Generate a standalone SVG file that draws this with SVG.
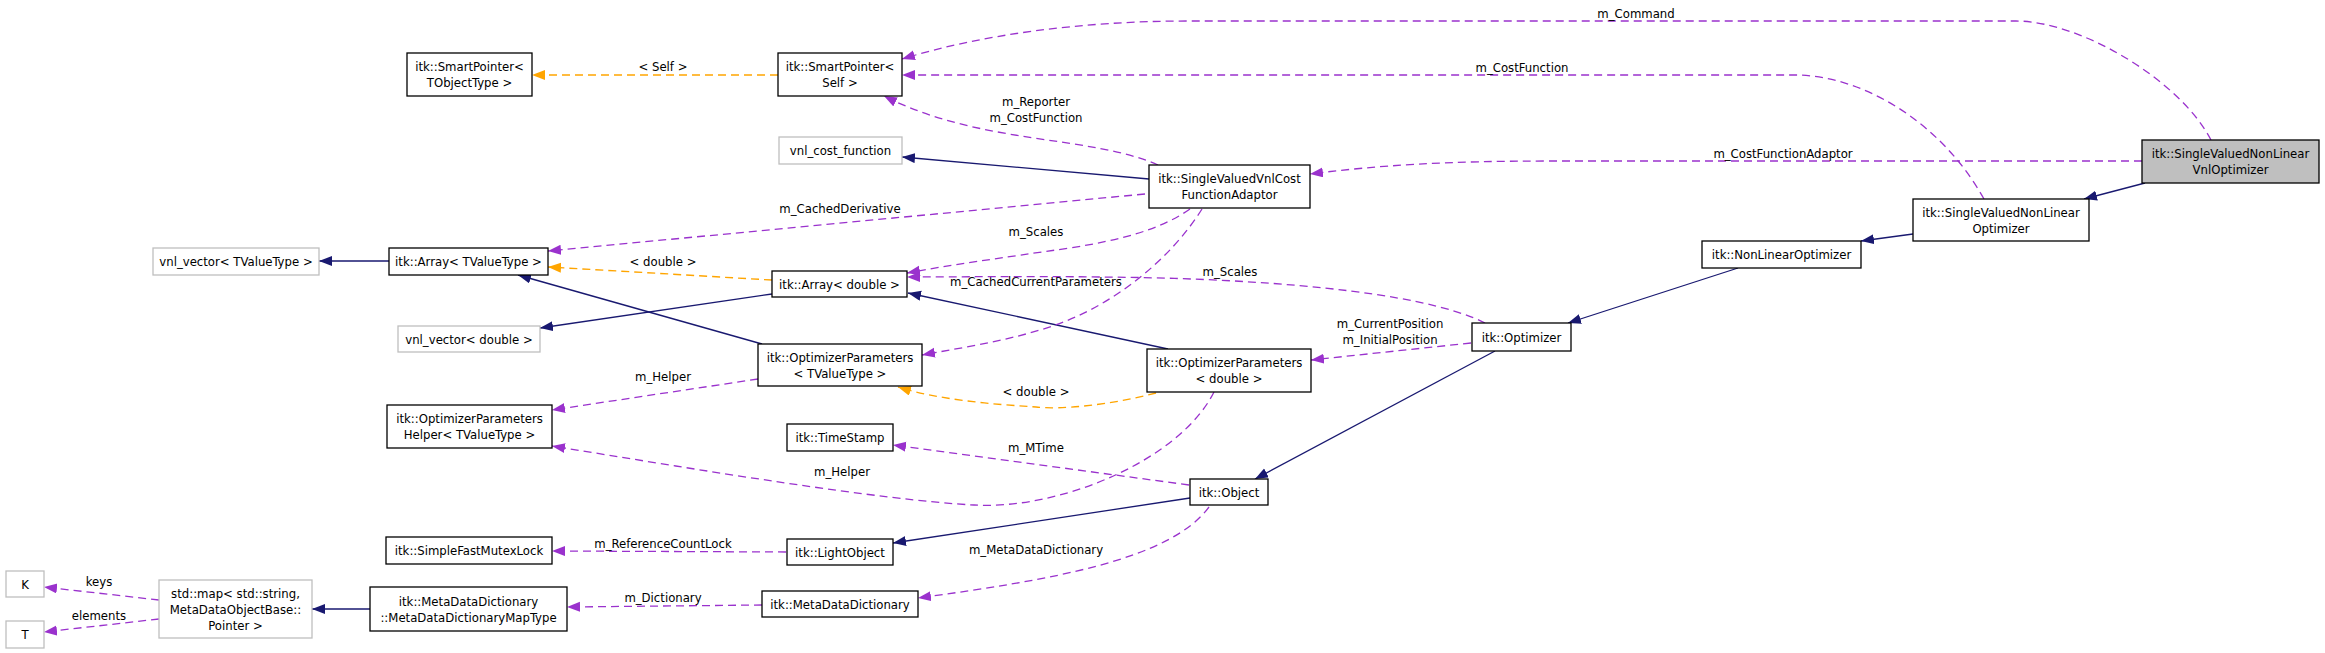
<svg xmlns="http://www.w3.org/2000/svg" width="2325" height="653" viewBox="0 0 2325 653">
<defs>
<style>
text{font-family:"DejaVu Sans Condensed","Liberation Sans Narrow","Liberation Sans",sans-serif;font-size:13px;fill:#000;text-anchor:middle;dominant-baseline:central}
.n{fill:#fff;stroke:#000;stroke-width:1.3}
.g{fill:#fff;stroke:#bfbfbf;stroke-width:1.3}
.f{fill:#bfbfbf;stroke:#000;stroke-width:1.3}
.b{fill:none;stroke:#191970;stroke-width:1.3}
.p{fill:none;stroke:#9a32cd;stroke-width:1.3;stroke-dasharray:8,5}
.o{fill:none;stroke:#ffa500;stroke-width:1.3;stroke-dasharray:8,5}
</style>
<marker id="ab" markerUnits="userSpaceOnUse" markerWidth="14" markerHeight="11" refX="13" refY="5" orient="auto"><path d="M0,0L13,5L0,10z" fill="#191970"/></marker>
<marker id="ap" markerUnits="userSpaceOnUse" markerWidth="14" markerHeight="11" refX="13" refY="5" orient="auto"><path d="M0,0L13,5L0,10z" fill="#9a32cd"/></marker>
<marker id="ao" markerUnits="userSpaceOnUse" markerWidth="14" markerHeight="11" refX="13" refY="5" orient="auto"><path d="M0,0L13,5L0,10z" fill="#ffa500"/></marker>
</defs>
<rect width="2325" height="653" fill="#fff"/>
<g id="edges">
<path class="o" marker-end="url(#ao)" d="M778,75L532,75"/>
<text x="663" y="66">&lt; Self &gt;</text>
<path class="o" marker-end="url(#ao)" d="M772,280L548,267"/>
<text x="663" y="261">&lt; double &gt;</text>
<path class="o" marker-end="url(#ao)" d="M1156,393C1110,405 1060,410 1036,407C990,404 940,400 898,387"/>
<text x="1036" y="391">&lt; double &gt;</text>
<path class="b" marker-end="url(#ab)" d="M1149,179L902,157"/>
<path class="b" marker-end="url(#ab)" d="M2145,183L2084,199"/>
<path class="b" marker-end="url(#ab)" d="M1913,234L1861,241"/>
<path class="b" marker-end="url(#ab)" d="M1738,268L1568,323"/>
<path class="b" marker-end="url(#ab)" d="M1495,351L1255,479"/>
<path class="b" marker-end="url(#ab)" d="M1190,498L893,543"/>
<path class="b" marker-end="url(#ab)" d="M389,261L319,261"/>
<path class="b" marker-end="url(#ab)" d="M772,294L540,328"/>
<path class="b" marker-end="url(#ab)" d="M762,344L518,275"/>
<path class="b" marker-end="url(#ab)" d="M1168,349L908,293"/>
<path class="b" marker-end="url(#ab)" d="M370,609L312,609"/>
<path class="p" marker-end="url(#ap)" d="M2211,140C2180,80 2080,21 2016,21L1189,21C1080,21 980,35 902,59"/>
<text x="1636" y="13">m_Command</text>
<path class="p" marker-end="url(#ap)" d="M1984,199C1940,120 1860,75 1795,75L902,75"/>
<text x="1522" y="67">m_CostFunction</text>
<path class="p" marker-end="url(#ap)" d="M1158,165C1090,135 980,145 884,96"/>
<text x="1036" y="101">m_Reporter</text>
<text x="1036" y="117">m_CostFunction</text>
<path class="p" marker-end="url(#ap)" d="M2142,161L1550,161C1450,161 1380,165 1310,174"/>
<text x="1783" y="153">m_CostFunctionAdaptor</text>
<path class="p" marker-end="url(#ap)" d="M1145,194L548,251"/>
<text x="840" y="208">m_CachedDerivative</text>
<path class="p" marker-end="url(#ap)" d="M1190,209C1160,230 1120,240 1070,248C1000,258 950,265 907,273"/>
<text x="1036" y="231">m_Scales</text>
<path class="p" marker-end="url(#ap)" d="M1202,209C1170,260 1110,310 1040,330C1000,342 960,348 922,355"/>
<text x="1036" y="281">m_CachedCurrentParameters</text>
<path class="p" marker-end="url(#ap)" d="M1485,323C1420,290 1250,278 1100,277C1020,276 960,277 907,277"/>
<text x="1230" y="271">m_Scales</text>
<path class="p" marker-end="url(#ap)" d="M1471,343L1311,360"/>
<text x="1390" y="323">m_CurrentPosition</text>
<text x="1390" y="339">m_InitialPosition</text>
<path class="p" marker-end="url(#ap)" d="M758,379L552,410"/>
<text x="663" y="376">m_Helper</text>
<path class="p" marker-end="url(#ap)" d="M1214,392C1180,460 1060,510 974,505C880,500 700,470 552,446"/>
<text x="842" y="471">m_Helper</text>
<path class="p" marker-end="url(#ap)" d="M1189,485L893,445"/>
<text x="1036" y="447">m_MTime</text>
<path class="p" marker-end="url(#ap)" d="M786,552L552,551"/>
<text x="663" y="543">m_ReferenceCountLock</text>
<path class="p" marker-end="url(#ap)" d="M1209,507C1170,560 1050,580 918,598"/>
<text x="1036" y="549">m_MetaDataDictionary</text>
<path class="p" marker-end="url(#ap)" d="M762,605L567,607"/>
<text x="663" y="597">m_Dictionary</text>
<path class="p" marker-end="url(#ap)" d="M159,600L44,587"/>
<text x="99" y="581">keys</text>
<path class="p" marker-end="url(#ap)" d="M159,619L44,632"/>
<text x="99" y="615">elements</text>
</g>
<g id="node_sp_t"><rect class="n" x="407" y="53" width="125" height="43"/><text x="469.5" y="66.5">itk::SmartPointer&lt;</text><text x="469.5" y="82.5">TObjectType &gt;</text></g>
<g id="node_sp_self"><rect class="n" x="778" y="53" width="124" height="43"/><text x="840" y="66.5">itk::SmartPointer&lt;</text><text x="840" y="82.5">Self &gt;</text></g>
<g id="node_vnl_cost"><rect class="g" x="779" y="137" width="123" height="27"/><text x="840.5" y="150.5">vnl_cost_function</text></g>
<g id="node_adaptor"><rect class="n" x="1149" y="165" width="161" height="43"/><text x="1229.5" y="178.5">itk::SingleValuedVnlCost</text><text x="1229.5" y="194.5">FunctionAdaptor</text></g>
<g id="node_vnlopt"><rect class="f" x="2142" y="140" width="177" height="43"/><text x="2230.5" y="153.5">itk::SingleValuedNonLinear</text><text x="2230.5" y="169.5">VnlOptimizer</text></g>
<g id="node_svnlopt"><rect class="n" x="1913" y="199" width="176" height="42"/><text x="2001" y="212">itk::SingleValuedNonLinear</text><text x="2001" y="228">Optimizer</text></g>
<g id="node_nlopt"><rect class="n" x="1702" y="241" width="159" height="27"/><text x="1781.5" y="254.5">itk::NonLinearOptimizer</text></g>
<g id="node_optimizer"><rect class="n" x="1472" y="323" width="99" height="28"/><text x="1521.5" y="337">itk::Optimizer</text></g>
<g id="node_vnlvec_t"><rect class="g" x="153" y="248" width="166" height="27"/><text x="236" y="261.5">vnl_vector&lt; TValueType &gt;</text></g>
<g id="node_array_t"><rect class="n" x="389" y="248" width="159" height="27"/><text x="468.5" y="261.5">itk::Array&lt; TValueType &gt;</text></g>
<g id="node_array_d"><rect class="n" x="772" y="271" width="135" height="26"/><text x="839.5" y="284">itk::Array&lt; double &gt;</text></g>
<g id="node_vnlvec_d"><rect class="g" x="398" y="326" width="142" height="26"/><text x="469" y="339">vnl_vector&lt; double &gt;</text></g>
<g id="node_op_t"><rect class="n" x="758" y="344" width="164" height="42"/><text x="840" y="357">itk::OptimizerParameters</text><text x="840" y="373">&lt; TValueType &gt;</text></g>
<g id="node_op_d"><rect class="n" x="1147" y="349" width="164" height="43"/><text x="1229" y="362.5">itk::OptimizerParameters</text><text x="1229" y="378.5">&lt; double &gt;</text></g>
<g id="node_helper"><rect class="n" x="387" y="405" width="165" height="43"/><text x="469.5" y="418.5">itk::OptimizerParameters</text><text x="469.5" y="434.5">Helper&lt; TValueType &gt;</text></g>
<g id="node_timestamp"><rect class="n" x="787" y="424" width="106" height="27"/><text x="840" y="437.5">itk::TimeStamp</text></g>
<g id="node_object"><rect class="n" x="1190" y="479" width="78" height="26"/><text x="1229" y="492">itk::Object</text></g>
<g id="node_mutex"><rect class="n" x="386" y="537" width="166" height="27"/><text x="469" y="550.5">itk::SimpleFastMutexLock</text></g>
<g id="node_lightobject"><rect class="n" x="787" y="539" width="106" height="26"/><text x="840" y="552">itk::LightObject</text></g>
<g id="node_k"><rect class="g" x="6" y="571" width="38" height="26"/><text x="25" y="584">K</text></g>
<g id="node_t"><rect class="g" x="6" y="621" width="38" height="27"/><text x="25" y="634.5">T</text></g>
<g id="node_stdmap"><rect class="g" x="159" y="580" width="153" height="58"/><text x="235.5" y="593">std::map&lt; std::string,</text><text x="235.5" y="609">MetaDataObjectBase::</text><text x="235.5" y="625">Pointer &gt;</text></g>
<g id="node_maptype"><rect class="n" x="370" y="587" width="197" height="44"/><text x="468.5" y="601">itk::MetaDataDictionary</text><text x="468.5" y="617">::MetaDataDictionaryMapType</text></g>
<g id="node_mdd"><rect class="n" x="762" y="591" width="156" height="26"/><text x="840" y="604">itk::MetaDataDictionary</text></g>
</svg>
